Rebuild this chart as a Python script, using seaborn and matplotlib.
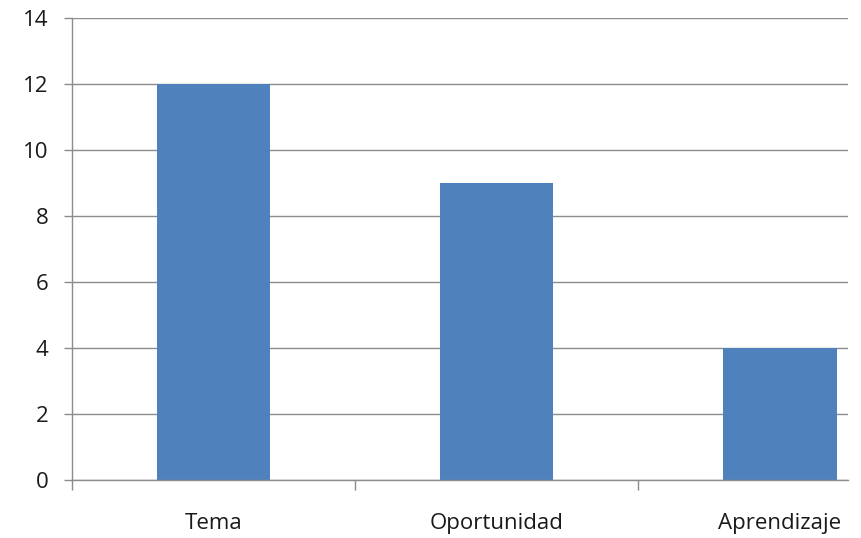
import matplotlib
matplotlib.use("Agg")
import matplotlib.pyplot as plt
import seaborn as sns
import pandas as pd
from matplotlib.ticker import FixedLocator

# data
categories = ["Tema", "Oportunidad", "Aprendizaje"]
values = [12, 9, 4]
y_ticks = [0, 2, 4, 6, 8, 10, 12, 14]

df = pd.DataFrame({"categoria": categories, "valor": values})

sns.set_style("white")
plt.rcParams["font.family"] = ["Open Sans", "DejaVu Sans"]

fig = plt.figure(figsize=(8.62, 5.38), dpi=100)
ax = fig.add_axes([72 / 862, 58 / 538, 776 / 862, 462 / 538])

sns.barplot(data=df, x="categoria", y="valor", color="#4F81BD",
            saturation=1, width=0.4, linewidth=0, ax=ax)

grid_col = "#8C8C8C"
text_col = "#1A1A1A"
ax.set_ylim(0, 14)
ax.set_xlim(-0.5, 2.24)
ax.set_yticks(y_ticks)
ax.yaxis.grid(True, color=grid_col, linewidth=1)
ax.set_axisbelow(True)

for s in ["top", "right"]:
    ax.spines[s].set_visible(False)
for s in ["left", "bottom"]:
    ax.spines[s].set_color(grid_col)
    ax.spines[s].set_linewidth(1)

# category labels without marks, boundary marks without labels
ax.set_xticks(range(len(categories)))
ax.set_xticklabels(categories)
ax.xaxis.set_minor_locator(FixedLocator([-0.5, 0.5, 1.5]))
ax.tick_params(axis="x", which="major", length=0, pad=24,
               labelsize=16, labelcolor=text_col)
ax.tick_params(axis="x", which="minor", length=7, width=1,
               color=grid_col, direction="out", bottom=True)
ax.tick_params(axis="y", length=6, width=1, color=grid_col,
               direction="out", left=True, pad=11,
               labelsize=16, labelcolor=text_col)

ax.set_xlabel("")
ax.set_ylabel("")

fig.savefig("out.png", dpi=100)
